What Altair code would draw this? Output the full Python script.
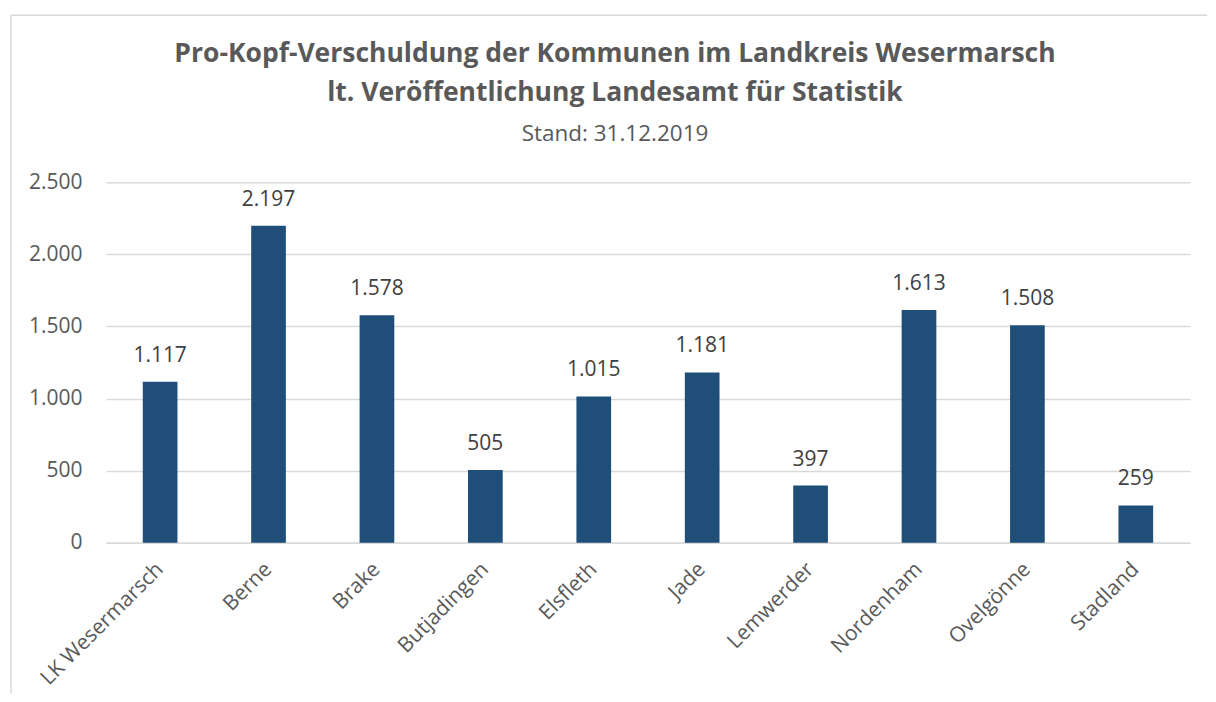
import altair as alt
import pandas as pd

kommunen = ["LK Wesermarsch", "Berne", "Brake", "Butjadingen", "Elsfleth",
            "Jade", "Lemwerder", "Nordenham", "Ovelgönne", "Stadland"]
werte = [1117, 2197, 1578, 505, 1015, 1181, 397, 1613, 1508, 259]
y_ticks = [0, 500, 1000, 1500, 2000, 2500]

df = pd.DataFrame({"Kommune": kommunen, "Wert": werte})

FONT = "Open Sans"
GREY = "#595959"
de_fmt = "replace(format(datum.value, ','), ',', '.')"

x_enc = alt.X("Kommune:N", sort=kommunen,
              scale=alt.Scale(paddingInner=0.68, paddingOuter=0.34),
              axis=alt.Axis(title=None, labelAngle=-45, labelAlign="right",
                            labelBaseline="middle", labelPadding=23,
                            labelFontSize=21, labelColor=GREY, labelFont=FONT,
                            ticks=False, domainColor="#D9D9D9", domainWidth=1.5))
y_enc = alt.Y("Wert:Q", scale=alt.Scale(domain=[0, 2500], nice=False),
              axis=alt.Axis(title=None, values=y_ticks, labelExpr=de_fmt,
                            labelFontSize=21, labelColor=GREY, labelFont=FONT,
                            labelPadding=24, ticks=False, domain=False,
                            gridColor="#D9D9D9", gridWidth=1.5))

base = alt.Chart(df)
one = base.transform_filter("datum.Kommune == 'Berne'")

border_left = one.mark_rule(stroke="#D9D9D9", strokeWidth=1.5).encode(
    x=alt.value(-95), y=alt.value(-167), y2=alt.value(512)
)
border_top = one.mark_rule(stroke="#D9D9D9", strokeWidth=1.5).encode(
    x=alt.value(-95), x2=alt.value(1102), y=alt.value(-167)
)

bars = base.mark_bar(color="#1F4E79").encode(x=x_enc, y=y_enc)

labels = base.transform_calculate(
    lab="replace(format(datum.Wert, ','), ',', '.')"
).mark_text(baseline="bottom", dy=-16, fontSize=21, font=FONT, color="#404040").encode(
    x=alt.X("Kommune:N", sort=kommunen), y="Wert:Q", text="lab:N"
)

chart = alt.layer(border_left, border_top, bars, labels).properties(
    width=1085, height=361,
    padding={"left": 2, "top": 6, "right": 0, "bottom": 0},
    title=alt.TitleParams(
        text=["Pro-Kopf-Verschuldung der Kommunen im Landkreis Wesermarsch",
              "lt. Veröffentlichung Landesamt für Statistik"],
        subtitle="Stand: 31.12.2019",
        anchor="middle", frame="group", dx=-33, offset=-131,
        font=FONT, fontSize=26.5, fontWeight="bold", color=GREY, lineHeight=39,
        subtitleFont=FONT, subtitleFontSize=22.5, subtitleColor=GREY,
        subtitlePadding=16,
    ),
).configure_view(stroke=None)

chart.save("out.html", embed_options={"renderer": "svg", "actions": False})
